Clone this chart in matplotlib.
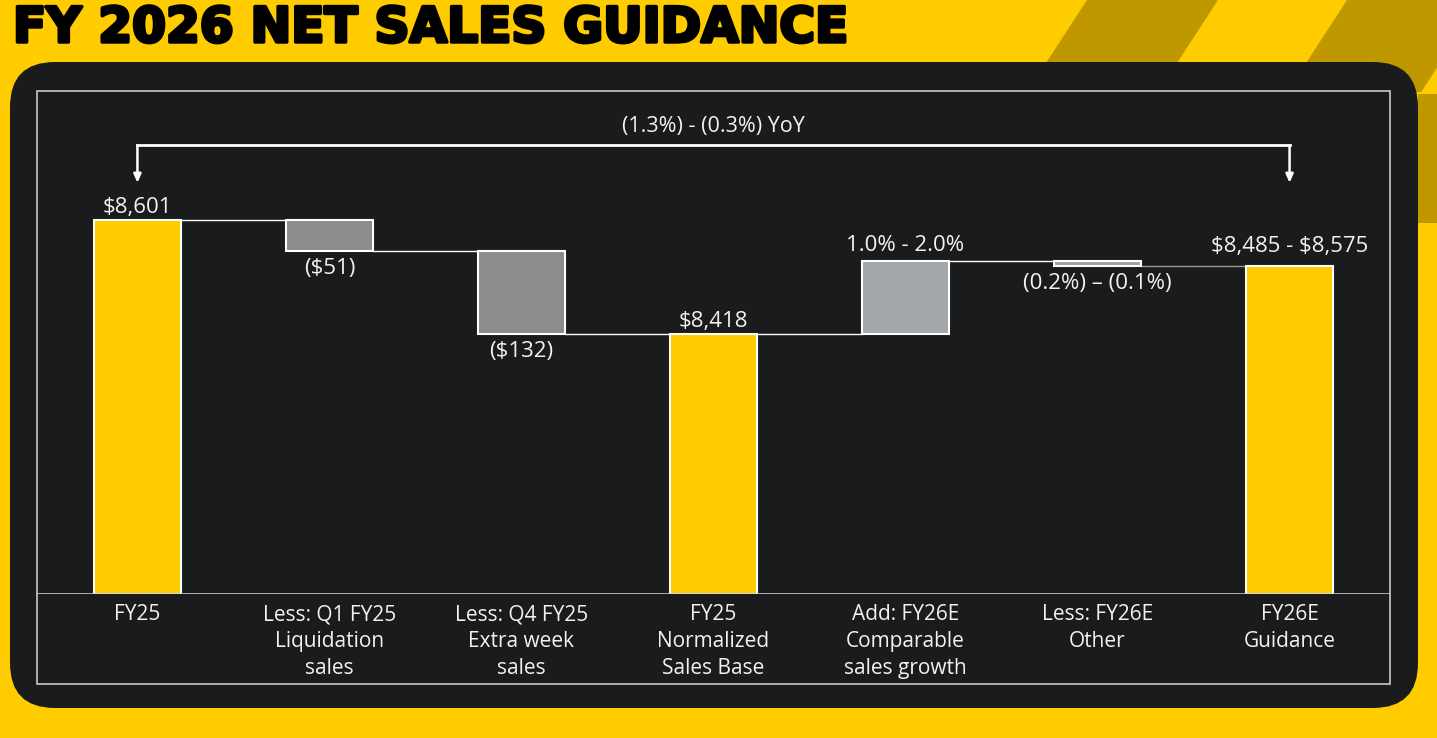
import matplotlib
matplotlib.use("Agg")
import matplotlib.pyplot as plt
import matplotlib.patheffects as pe
from matplotlib.patches import FancyBboxPatch, Rectangle, Polygon
from matplotlib.transforms import blended_transform_factory

# ---- data -------------------------------------------------------------
categories = [
    "FY25",
    "Less: Q1 FY25\nLiquidation\nsales",
    "Less: Q4 FY25\nExtra week\nsales",
    "FY25\nNormalized\nSales Base",
    "Add: FY26E\nComparable\nsales growth",
    "Less: FY26E\nOther",
    "FY26E\nGuidance",
]
kinds = ["total", "delta", "delta", "total", "delta", "delta", "total"]
values = [8601, -51, -132, 8418, 116, -7, 8527]
value_labels = [r"\$8,601", r"(\$51)", r"(\$132)", r"\$8,418",
                "1.0% - 2.0%", "(0.2%) \u2013 (0.1%)", r"\$8,485 - \$8,575"]
yoy_label = "(1.3%) - (0.3%) YoY"
title = "FY 2026 NET SALES GUIDANCE"
y_floor = 8000

# ---- style ------------------------------------------------------------
W, H = 1437, 738
YELLOW = "#FFCC00"
GOLD = "#BF9800"
PANEL = "#1A1B1D"
TXT = "#F2F2F2"
bar_colors = [YELLOW, "#8C8C8C", "#8C8C8C", YELLOW, "#A5A8AA", "#A0A0A0", YELLOW]
label_pad = [1, 5, 5, 1, 4, 5, 6]   # points between bar edge and value label
LABEL_FONT = ["Open Sans", "DejaVu Sans"]

fig = plt.figure(figsize=(W / 100, H / 100), dpi=100)
fig.patch.set_facecolor(YELLOW)

# background layer in pixel coordinates
bg = fig.add_axes([0, 0, 1, 1], zorder=0)
bg.set_xlim(0, W)
bg.set_ylim(H, 0)
bg.axis("off")

# diagonal stripes top-right
slope = 0.65
for x0, x1 in [(1087, 1218), (1347, 1481)]:
    yb = 92
    bg.add_patch(Polygon([(x0, 0), (x1, 0), (x1 - slope * yb, yb), (x0 - slope * yb, yb)],
                         closed=True, fc=GOLD, ec="none"))
bg.add_patch(Rectangle((1418, 94), 19, 129, fc=GOLD, ec="none"))

# dark rounded panel
bg.add_patch(FancyBboxPatch((10, 62), 1408, 646,
                            boxstyle="round,pad=0,rounding_size=45",
                            fc=PANEL, ec="none"))
bg.add_patch(Rectangle((37, 91), 1353, 593, fill=False, ec="#C8C8C8", lw=1.2))

bg.text(13, 42, title, fontsize=35, fontweight="bold",
        family=["DejaVu Sans"], color="black", va="baseline", ha="left",
        path_effects=[pe.withStroke(linewidth=2.5, foreground="black")])

# ---- waterfall axes -----------------------------------------------------
ax = fig.add_axes([37 / W, 1 - 594 / H, 1353 / W, 503 / H], zorder=1)
ax.patch.set_alpha(0)
ax.axis("off")
ax.set_xlim(-0.523, 6.523)
ax.set_ylim(y_floor, y_floor + 503 / 0.623)

bar_w = 0.453
level = None
levels = []
for i, (k, v) in enumerate(zip(kinds, values)):
    if k == "total":
        lo, hi = y_floor, v
        level = v
    else:
        lo, hi = sorted([level, level + v])
        level = level + v
    levels.append(level)
    ax.bar(i, hi - lo, bottom=lo, width=bar_w, color=bar_colors[i],
           edgecolor="white", linewidth=1.5, zorder=3)
    if k == "delta" and v < 0:
        ax.annotate(value_labels[i], (i, lo), xytext=(0, -label_pad[i]), textcoords="offset points",
                    ha="center", va="top", fontsize=16, color=TXT, family=LABEL_FONT)
    else:
        ax.annotate(value_labels[i], (i, hi), xytext=(0, label_pad[i]), textcoords="offset points",
                    ha="center", va="bottom", fontsize=16, color=TXT, family=LABEL_FONT)

# connectors
for i in range(len(values) - 1):
    c = "#9A9A9A" if i == len(values) - 2 else "white"
    ax.plot([i + bar_w / 2, i + 1 - bar_w / 2], [levels[i], levels[i]],
            color=c, lw=1.0, zorder=2)

ax.axhline(y_floor, color="#C8C8C8", lw=1.2, zorder=4)

# category labels
tr = blended_transform_factory(ax.transData, ax.transAxes)
for i, cat in enumerate(categories):
    ax.text(i, -0.02, cat, transform=tr, ha="center", va="top", fontsize=15,
            color=TXT, family=LABEL_FONT, linespacing=1.36)

# YoY bracket
br_y, arr_y = 8720, 8660
ax.plot([0, 6], [br_y, br_y], color="white", lw=2, clip_on=False,
        solid_capstyle="projecting")
for xi in (0, 6):
    ax.annotate("", xy=(xi, arr_y), xytext=(xi, br_y),
                arrowprops=dict(arrowstyle="-|>,head_length=0.5,head_width=0.22",
                                color="white", lw=1.8, shrinkA=0, shrinkB=0),
                annotation_clip=False)
ax.annotate(yoy_label, (3, br_y), xytext=(0, 6), textcoords="offset points",
            ha="center", va="bottom", fontsize=15.5, color=TXT, family=LABEL_FONT)

fig.savefig("out.png", dpi=100, facecolor=fig.get_facecolor())
